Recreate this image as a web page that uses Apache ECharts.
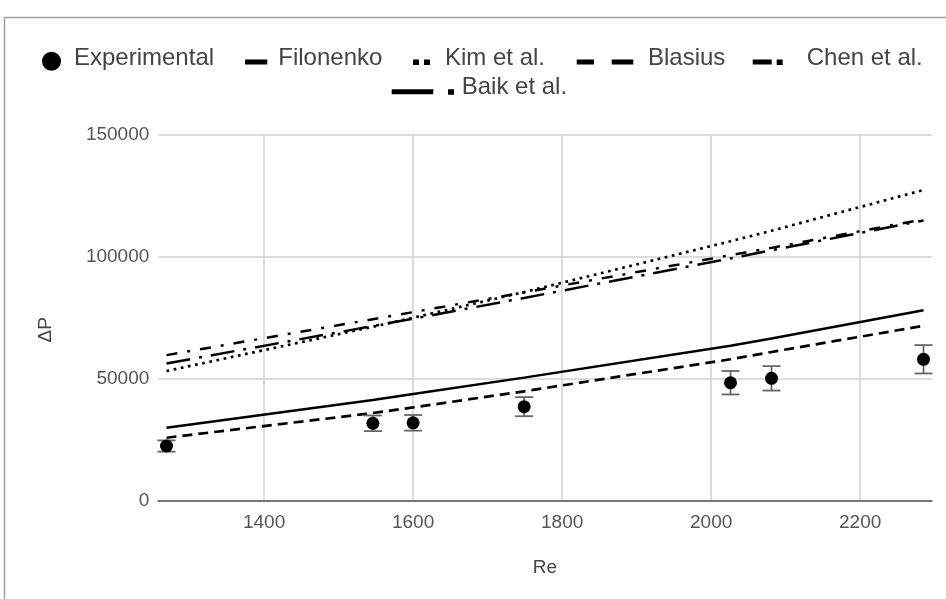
<!DOCTYPE html>
<html>
<head>
<meta charset="utf-8">
<script src="https://cdn.jsdelivr.net/npm/echarts@6/dist/echarts.min.js"></script>
<style>
  html, body { margin: 0; padding: 0; background: #fff; }
  #chart { width: 946px; height: 599px; }
</style>
</head>
<body>
<div id="chart"></div>
<script>
// Reynolds numbers of the measured runs
const reValues = [1269, 1546, 1600, 1749, 2026, 2081, 2285];
// Measured pressure drop and its uncertainty
const experimental = [22500, 31800, 32000, 38600, 48400, 50200, 58000];
const errorMargin = [2300, 3200, 3200, 3900, 4800, 5000, 5800];
// Correlation predictions at the same Reynolds numbers
const filonenko = [30000, 41300, 43800, 50500, 63500, 66500, 78100];
const kim = [53200, 71300, 75000, 85500, 106300, 110600, 127300];
const blasius = [25900, 36000, 38300, 44900, 58000, 61000, 71700];
const chen = [59700, 74400, 77300, 85400, 100600, 103600, 115300];
const baik = [56300, 71600, 74600, 83100, 99300, 102600, 114800];
// Axis ticks
const xTicks = [1400, 1600, 1800, 2000, 2200];
const yTicks = [0, 50000, 100000, 150000];

const FONT = "'Liberation Sans', Arial, sans-serif";
const pairs = (ys) => reValues.map((r, i) => [r, ys[i]]);

// Legend glyphs: each path spans its whole icon box (invisible corner points)
const box = (w, h) => `M0 0L0 0ZM${w} ${h}L${w} ${h}Z`;
const bar = (x0, x1, yc, t) => `M${x0} ${yc - t / 2}L${x1} ${yc - t / 2}L${x1} ${yc + t / 2}L${x0} ${yc + t / 2}Z`;
const circ = (cx, cy, r) => `M${cx - r} ${cy}A${r} ${r} 0 1 0 ${cx + r} ${cy}A${r} ${r} 0 1 0 ${cx - r} ${cy}Z`;

const ROW1 = 43.8, ROW2 = 72, H = 30;
const legendItem = (name, icon, left, top, width) => ({
  data: [{ name: name, icon: 'path://' + icon }],
  left: left, top: top, padding: 0, itemGap: 0,
  itemWidth: width, itemHeight: H,
  selectedMode: false,
  itemStyle: { color: '#000', borderWidth: 0 },
  textStyle: { fontSize: 24, color: '#444', fontFamily: FONT }
});

const legends = [
  legendItem('Experimental', box(27, H) + circ(9.5, 17.4, 9.5), 42, ROW1, 27),
  legendItem('Filonenko', box(28.3, H) + bar(0, 22.3, 18.2, 5), 245, ROW1, 28.3),
  legendItem('Kim et al.', box(27, H) + bar(0, 6, 18.4, 5.5) + bar(11, 17, 18.4, 5.5), 413, ROW1, 27),
  legendItem('Blasius', box(66.3, H) + bar(0, 17.3, 18.2, 5) + bar(35, 56.6, 18.2, 5), 576.7, ROW1, 66.3),
  legendItem('Chen et al.', box(49, H) + bar(0, 19, 18.2, 5) + bar(24, 30, 18.4, 5.5), 752.7, ROW1, 49),
  legendItem('Baik et al.', box(65, H) + bar(0, 41.6, 19.7, 5) + bar(56.3, 62.3, 19.9, 5.5), 391.7, ROW2, 65)
];

const lineSeries = (name, ys, dash, width) => ({
  name: name, type: 'line', data: pairs(ys), symbol: 'none',
  lineStyle: { color: '#000', width: width, type: dash, cap: 'butt' },
  z: 2, animation: false
});

const option = {
  animation: false,
  backgroundColor: '#fff',
  legend: legends,
  grid: { left: 158.3, right: 14.3, top: 134.5, bottom: 98, containLabel: false },
  xAxis: {
    type: 'value', min: 1258, max: 2296,
    name: 'Re', nameLocation: 'middle', nameGap: 57,
    nameTextStyle: { fontSize: 19, color: '#444', fontFamily: FONT },
    axisLine: { show: true, lineStyle: { color: '#777', width: 2 } },
    axisTick: { show: false, customValues: xTicks },
    axisLabel: { customValues: xTicks, fontSize: 19, color: '#555', fontFamily: FONT, margin: 12,
                 formatter: (v) => String(v) },
    splitLine: { show: true, lineStyle: { color: '#d0d0d0', width: 1.5 } }
  },
  yAxis: {
    type: 'value', min: yTicks[0], max: yTicks[yTicks.length - 1], interval: 50000,
    name: 'ΔP', nameLocation: 'middle', nameGap: 103, nameRotate: 90,
    nameTextStyle: { fontSize: 19, color: '#444', fontFamily: FONT, padding: [0, 24, 0, 0] },
    axisLine: { show: false },
    axisTick: { show: false },
    axisLabel: { fontSize: 19, color: '#555', fontFamily: FONT, margin: 9,
                 formatter: (v) => String(v) },
    splitLine: { show: true, lineStyle: { color: '#d0d0d0', width: 1.5 } }
  },
  graphic: [{
    type: 'rect', silent: true, z: -10,
    shape: { x: 4.5, y: 17.5, width: 1000, height: 1000 },
    style: { fill: 'none', stroke: '#a0a0a0', lineWidth: 1.5 }
  }],
  series: [
    {
      name: 'Experimental error', type: 'custom', z: 3,
      data: reValues.map((r, i) => [r, experimental[i] - errorMargin[i], experimental[i] + errorMargin[i]]),
      renderItem: (params, api) => {
        const top = api.coord([api.value(0), api.value(2)]);
        const bot = api.coord([api.value(0), api.value(1)]);
        const half = 9;
        const st = { stroke: '#666', lineWidth: 1.8 };
        return {
          type: 'group', children: [
            { type: 'line', shape: { x1: top[0], y1: top[1], x2: bot[0], y2: bot[1] }, style: st },
            { type: 'line', shape: { x1: top[0] - half, y1: top[1], x2: top[0] + half, y2: top[1] }, style: st },
            { type: 'line', shape: { x1: bot[0] - half, y1: bot[1], x2: bot[0] + half, y2: bot[1] }, style: st }
          ]
        };
      }
    },
    {
      name: 'Experimental', type: 'scatter', data: pairs(experimental),
      symbol: 'circle', symbolSize: 13, itemStyle: { color: '#000', opacity: 1 }, z: 4
    },
    lineSeries('Filonenko', filonenko, 'solid', 2.5),
    lineSeries('Kim et al.', kim, [2.7, 4.6], 2.7),
    lineSeries('Blasius', blasius, [10, 6], 2.7),
    lineSeries('Chen et al.', chen, [11, 10, 3, 10], 2.5),
    lineSeries('Baik et al.', baik, [24, 9, 3, 9], 2.5)
  ]
};

const chart = echarts.init(document.getElementById('chart'), null, { renderer: 'canvas' });
chart.setOption(option);
</script>
</body>
</html>
